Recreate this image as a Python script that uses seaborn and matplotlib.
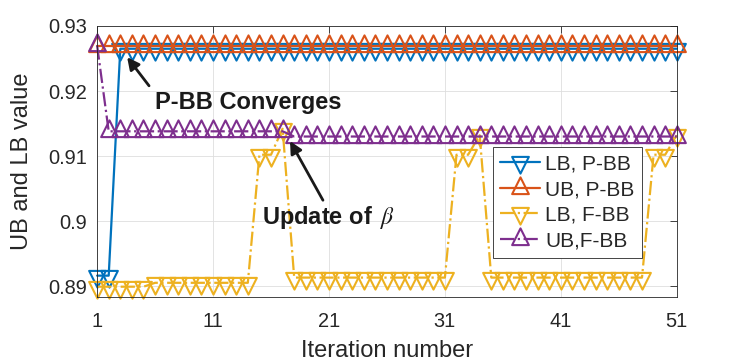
import numpy as np
import matplotlib
matplotlib.use('Agg')
import matplotlib.pyplot as plt
from matplotlib.path import Path
import seaborn as sns

# iteration axis
iterations = np.arange(1, 52)

# values (51 iterations each)
lb_pbb = [0.8916, 0.8916, 0.9265, 0.9265, 0.9265, 0.9265, 0.9265, 0.9265, 0.9265, 0.9265,
          0.9265, 0.9265, 0.9265, 0.9265, 0.9265, 0.9265, 0.9265, 0.9265, 0.9265, 0.9265,
          0.9265, 0.9265, 0.9265, 0.9265, 0.9265, 0.9265, 0.9265, 0.9265, 0.9265, 0.9265,
          0.9265, 0.9265, 0.9265, 0.9265, 0.9265, 0.9265, 0.9265, 0.9265, 0.9265, 0.9265,
          0.9265, 0.9265, 0.9265, 0.9265, 0.9265, 0.9265, 0.9265, 0.9265, 0.9265, 0.9265,
          0.9265]
ub_pbb = [0.9269, 0.9269, 0.9269, 0.9269, 0.9269, 0.9269, 0.9269, 0.9269, 0.9269, 0.9269,
          0.9269, 0.9269, 0.9269, 0.9269, 0.9269, 0.9269, 0.9269, 0.9269, 0.9269, 0.9269,
          0.9269, 0.9269, 0.9269, 0.9269, 0.9269, 0.9269, 0.9269, 0.9269, 0.9269, 0.9269,
          0.9269, 0.9269, 0.9269, 0.9269, 0.9269, 0.9269, 0.9269, 0.9269, 0.9269, 0.9269,
          0.9269, 0.9269, 0.9269, 0.9269, 0.9269, 0.9269, 0.9269, 0.9269, 0.9269, 0.9269,
          0.9269]
lb_fbb = [0.8899, 0.8899, 0.8899, 0.8899, 0.8899, 0.8905, 0.8905, 0.8905, 0.8905, 0.8905,
          0.8905, 0.8905, 0.8905, 0.8905, 0.9102, 0.9102, 0.9142, 0.8913, 0.8913, 0.8913,
          0.8913, 0.8913, 0.8913, 0.8913, 0.8913, 0.8913, 0.8913, 0.8913, 0.8913, 0.8913,
          0.8913, 0.9102, 0.9102, 0.9132, 0.8913, 0.8913, 0.8913, 0.8913, 0.8913, 0.8913,
          0.8913, 0.8913, 0.8913, 0.8913, 0.8913, 0.8913, 0.8913, 0.8913, 0.9102, 0.9102,
          0.9132]
ub_fbb = [0.9270, 0.9138, 0.9138, 0.9138, 0.9138, 0.9138, 0.9138, 0.9138, 0.9138, 0.9138,
          0.9138, 0.9138, 0.9138, 0.9138, 0.9138, 0.9138, 0.9138, 0.9130, 0.9130, 0.9130,
          0.9130, 0.9130, 0.9130, 0.9130, 0.9130, 0.9130, 0.9130, 0.9130, 0.9130, 0.9130,
          0.9130, 0.9130, 0.9130, 0.9130, 0.9130, 0.9130, 0.9130, 0.9130, 0.9130, 0.9130,
          0.9130, 0.9130, 0.9130, 0.9130, 0.9130, 0.9130, 0.9130, 0.9130, 0.9130, 0.9130,
          0.9130]

series_names = ['LB, P-BB', 'UB, P-BB', 'LB, F-BB', 'UB,F-BB']
x_ticks = [1, 11, 21, 31, 41, 51]
y_ticks = [0.89, 0.90, 0.91, 0.92, 0.93]
y_tick_labels = ['0.89', '0.9', '0.91', '0.92', '0.93']

sns.set_theme(style='whitegrid', rc={'grid.color': '#dedede', 'grid.linewidth': 0.6,
                                     'axes.edgecolor': '#262626'})
plt.rcParams['font.family'] = ['Liberation Sans', 'DejaVu Sans']
plt.rcParams['mathtext.fontset'] = 'stix'

# matlab style triangles, centred on the centroid
tri_up = Path([(0, 1.33), (-1, -0.67), (1, -0.67), (0, 1.33)],
              [Path.MOVETO, Path.LINETO, Path.LINETO, Path.CLOSEPOLY])
tri_down = Path([(0, -1.33), (-1, 0.67), (1, 0.67), (0, -1.33)],
                [Path.MOVETO, Path.LINETO, Path.LINETO, Path.CLOSEPOLY])

colors = ['#0072BD', '#D95319', '#EDB120', '#7E2F8E']
line_styles = ['-', '-', '-.', '-.']
markers = [tri_down, tri_up, tri_down, tri_up]

fig, ax = plt.subplots(figsize=(7.47, 3.61), dpi=100)
fig.subplots_adjust(left=0.13, right=0.906, bottom=0.177, top=0.928)

for name, vals, c, ls, mk in zip(series_names, [lb_pbb, ub_pbb, lb_fbb, ub_fbb],
                                 colors, line_styles, markers):
    sns.lineplot(x=iterations, y=vals, ax=ax, color=c, linestyle=ls,
                 marker=mk, markersize=16, markerfacecolor='none',
                 markeredgecolor=c, markeredgewidth=1.5, linewidth=1.6,
                 label=name, legend=False, estimator=None, clip_on=False)

ax.set_xlim(1, 51)
ax.set_ylim(0.8883, 0.93)
ax.set_xticks(x_ticks)
ax.set_yticks(y_ticks)
ax.set_yticklabels(y_tick_labels)
ax.tick_params(direction='in', length=5, width=0.6, colors='#262626',
               labelsize=14.4, top=True, right=True, labeltop=False,
               labelright=False)
ax.tick_params(axis='x', pad=11)
ax.tick_params(axis='y', pad=7)
for sp in ax.spines.values():
    sp.set_linewidth(0.6)
    sp.set_color('#262626')

ax.set_xlabel('Iteration number', fontsize=17, color='#262626')
ax.set_ylabel('UB and LB value', fontsize=17, color='#262626')
ax.xaxis.set_label_coords(0.5, -0.16)
ax.yaxis.set_label_coords(-0.11, 0.5)

# annotations
arrow = dict(arrowstyle='-|>', color='k', lw=2, mutation_scale=18,
             shrinkA=0, shrinkB=0)
ax.annotate('', xy=(3.59, 0.9252), xytext=(5.48, 0.9208), arrowprops=arrow)
ax.text(6.0, 0.9183, 'P-BB Converges', fontsize=17, fontweight='bold',
        va='center', ha='left', color='k')
ax.annotate('', xy=(17.64, 0.9123), xytext=(20.48, 0.9032), arrowprops=arrow)
ax.text(15.22, 0.9006, r'Update of $\,\beta$', fontsize=17, fontweight='bold',
        va='center', ha='left', color='k')

leg = ax.legend(loc='upper left', bbox_to_anchor=(0.683, 0.5535), borderaxespad=0,
                fancybox=False, edgecolor='#262626', framealpha=1, fontsize=15,
                handlelength=1.9, handletextpad=0.25, labelspacing=0.32,
                borderpad=0.35)
leg.get_frame().set_linewidth(0.6)

fig.savefig('out.png', dpi=100)
plt.close()
